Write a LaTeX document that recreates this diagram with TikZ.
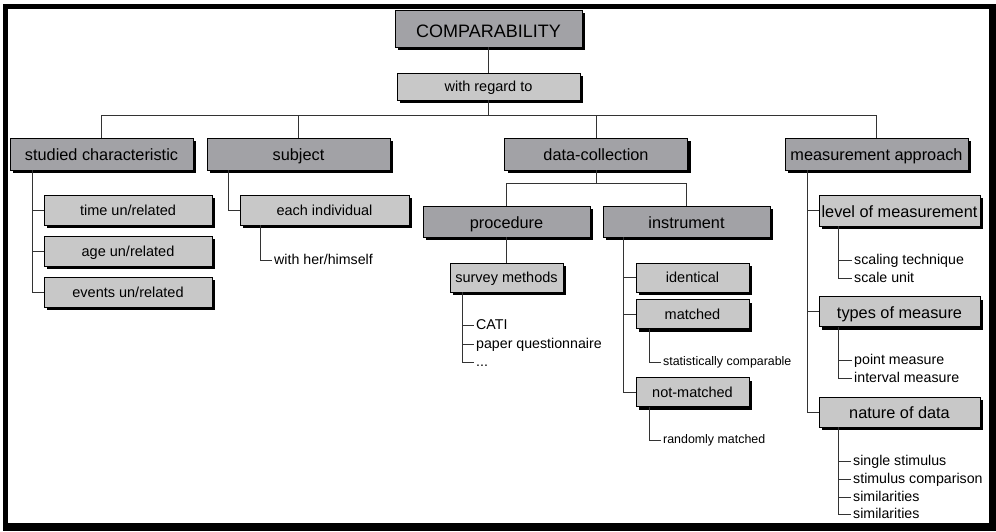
\documentclass[tikz,border=0pt]{standalone}
\usepackage{fontspec}
\setmainfont{Liberation Sans}
\usetikzlibrary{shadows}

\definecolor{boxdark}{RGB}{162,162,166}
\definecolor{boxlight}{RGB}{200,200,200}

\tikzset{
  boxbase/.style={draw=black, line width=0.8pt, inner sep=0pt,
    drop shadow={shadow xshift=3pt, shadow yshift=-3pt, fill=black, opacity=1}},
  bigtext/.style={font=\fontsize{16.3}{18}\selectfont, text height=14pt, text depth=0.6pt},
  midtext/.style={font=\fontsize{14.5}{16}\selectfont, text height=11pt, text depth=1pt},
  darkbox/.style={boxbase, fill=boxdark, bigtext},
  lightbox/.style={boxbase, fill=boxlight, midtext},
  item/.style={anchor=west, inner sep=2pt, font=\fontsize{14.2}{16}\selectfont,
    text height=10pt, text depth=0.6pt},
  smallitem/.style={anchor=west, inner sep=2pt, font=\fontsize{12.4}{14}\selectfont,
    text height=9pt, text depth=2.4pt},
  link/.style={draw=black!80, line width=0.8pt}
}

\begin{document}
\begin{tikzpicture}[x=1pt, y=-1pt]
        \useasboundingbox (0,0) rectangle (996,531);

        % Frame
        \fill[black] (3,4) rectangle (996,531);
        \fill[white] (8,9) rectangle (989,523);

        % Top of the tree
        \node[darkbox, minimum width=187, minimum height=37, font=\fontsize{18}{20}\selectfont, text height=18pt, text depth=0.1pt] (cmp) at (488.5,28.5) {COMPARABILITY};
        \node[lightbox, minimum width=183, minimum height=27] (wrt) at (488.5,86.5) {with regard to};

        % First level
        \node[darkbox, minimum width=183, minimum height=32] (sc) at (101.5,154) {studied characteristic};
        \node[darkbox, minimum width=183, minimum height=32] (subj) at (298.5,154) {subject};
        \node[darkbox, minimum width=183, minimum height=32] (dc) at (596,154) {data-collection};
        \node[darkbox, minimum width=183, minimum height=32] (ma) at (876.5,154) {measurement approach};

        % Links of the first level
        \draw[link] (cmp) -- (wrt);
        \draw[link] (wrt.south) -- ++(0,15) coordinate (bus);
        \draw[link] (sc.north) -- (sc.north |- bus) -- (ma.north |- bus) -- (ma.north);
        \draw[link] (subj.north) -- (subj.north |- bus);
        \draw[link] (dc.north) -- (dc.north |- bus);

        % studied characteristic
        \node[lightbox, minimum width=168, minimum height=30] (time) at (128,210) {time un/related};
        \node[lightbox, minimum width=168, minimum height=30] (age) at (128,251) {age un/related};
        \node[lightbox, minimum width=168, minimum height=30] (events) at (128,292) {events un/related};
        \foreach \n in {time,age,events}
            \draw[link] ([xshift=23pt]sc.south west) |- (\n.west);

        % subject
        \node[lightbox, minimum width=169, minimum height=30] (each) at (324.5,210) {each individual};
        \node[item] (self) at (272,260) {with her/himself};
        \draw[link] ([xshift=22pt]subj.south west) |- (each.west);
        \draw[link] ([xshift=21pt]each.south west) |- (self.west);

        % data-collection
        \node[darkbox, minimum width=167, minimum height=31] (proc) at (506.5,221.5) {procedure};
        \node[darkbox, minimum width=167, minimum height=31] (instr) at (686.5,221.5) {instrument};
        \draw[link] (dc.south) -- ++(0,13) coordinate (dcbus);
        \draw[link] (proc.north) -- (proc.north |- dcbus) -- (instr.north |- dcbus) -- (instr.north);

        % procedure
        \node[lightbox, minimum width=113, minimum height=29] (survey) at (506.5,277.5) {survey methods};
        \node[item] (cati) at (474,325) {CATI};
        \node[item] (paper) at (474,344) {paper questionnaire};
        \node[item] (more) at (474,362) {...};
        \draw[link] (proc) -- (survey);
        \foreach \n in {cati,paper,more}
            \draw[link] ([xshift=13pt]survey.south west) |- (\n.west);

        % instrument
        \node[lightbox, minimum width=113, minimum height=29] (ident) at (692.5,277.5) {identical};
        \node[lightbox, minimum width=113, minimum height=29] (match) at (692.5,314) {matched};
        \node[lightbox, minimum width=113, minimum height=29] (notmatch) at (692.5,392) {not-matched};
        \foreach \n in {ident,match,notmatch}
            \draw[link] ([xshift=21pt]instr.south west) |- (\n.west);
        \node[smallitem] (stat) at (661,362) {statistically comparable};
        \node[smallitem] (random) at (661,440) {randomly matched};
        \draw[link] ([xshift=14pt]match.south west) |- (stat.west);
        \draw[link] ([xshift=14pt]notmatch.south west) |- (random.west);

        % measurement approach
        \node[lightbox, bigtext, minimum width=161, minimum height=31] (level) at (899.5,210.5) {level of measurement};
        \node[lightbox, bigtext, minimum width=161, minimum height=30] (types) at (899.5,311.5) {types of measure};
        \node[lightbox, bigtext, minimum width=161, minimum height=30] (nature) at (899.5,412) {nature of data};
        \foreach \n in {level,types,nature}
            \draw[link] ([xshift=23pt]ma.south west) |- (\n.west);

        % items of level of measurement
        \node[item] (scaling) at (852,260) {scaling technique};
        \node[item] (unit) at (852,278) {scale unit};
        \foreach \n in {scaling,unit}
            \draw[link] ([xshift=20pt]level.south west) |- (\n.west);

        % items of types of measure
        \node[item] (point) at (852,360) {point measure};
        \node[item] (interval) at (852,378) {interval measure};
        \foreach \n in {point,interval}
            \draw[link] ([xshift=20pt]types.south west) |- (\n.west);

        % items of nature of data
        \node[item] (single) at (851,461) {single stimulus};
        \node[item] (compare) at (851,479) {stimulus comparison};
        \node[item] (simA) at (851,497) {similarities};
        \node[item] (simB) at (851,514) {similarities};
        \foreach \n in {single,compare,simA,simB}
            \draw[link] ([xshift=20pt]nature.south west) |- (\n.west);
\end{tikzpicture}
\end{document}
